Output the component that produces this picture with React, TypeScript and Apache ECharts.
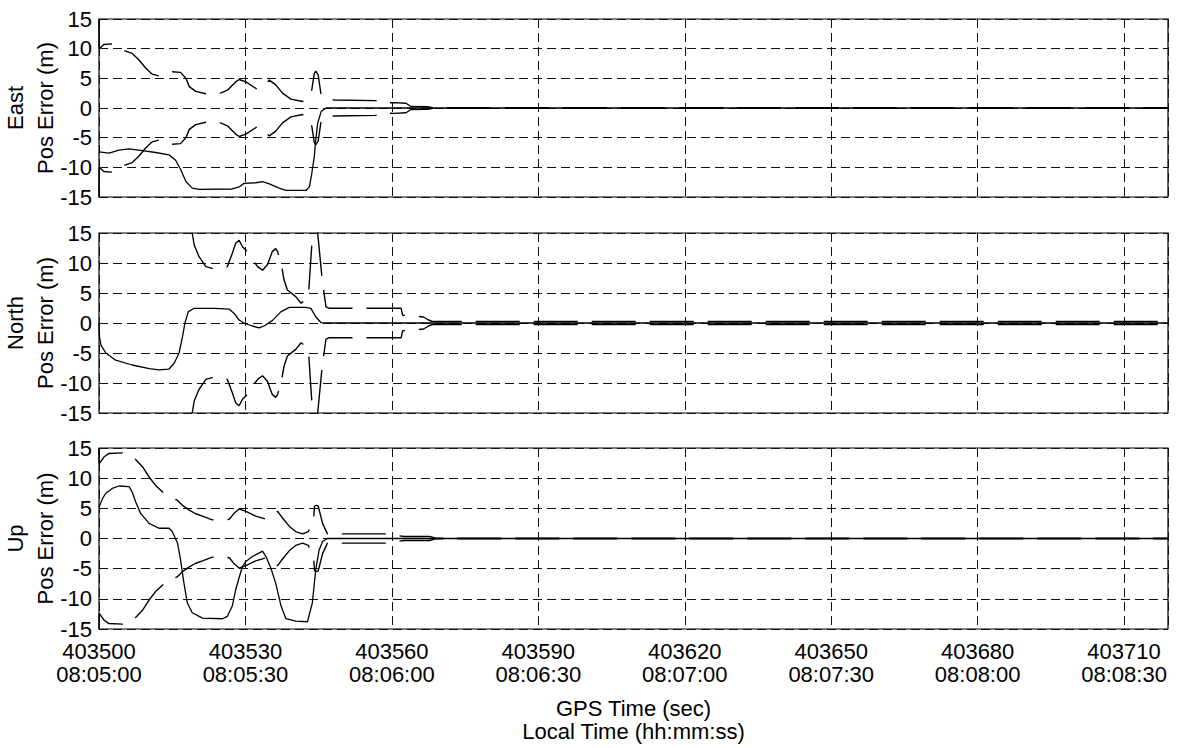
import React, { useEffect, useRef } from "react";
import * as echarts from "echarts";

// GPS start time of the record (08:05:00 local)
const T0 = 403500;
const T_END = 403719;

const gpsTicks = [403500, 403530, 403560, 403590, 403620, 403650, 403680, 403710];
const localTicks = ["08:05:00", "08:05:30", "08:06:00", "08:06:30", "08:07:00", "08:07:30", "08:08:00", "08:08:30"];

const panelNames = ["East", "North", "Up"];

// East position error (m), elapsed seconds from T0
const eastErrT = [0, 2.05, 4.1, 6.15, 8.9, 11.6, 14.35, 15.7, 16.75, 17.8, 19.1, 20.5, 27.3, 28.7, 29.7, 32.1, 33.5, 34.9, 36.9, 38.3, 42.4, 43.1, 43.6, 44.1, 44.4, 44.8, 45.5, 46.5, 219];
const eastErr = [-7.4, -7.6, -7.1, -6.9, -7.2, -7.5, -7.9, -8.8, -10.4, -12.4, -13.5, -13.7, -13.65, -13.3, -12.7, -12.6, -12.4, -12.8, -13.5, -13.9, -13.9, -13.3, -11.0, -8.2, -5.4, -2.6, -0.6, 0, 0];
// East 1-sigma bound (m)
const eastSigT = [0, 0.05, 1.0, 2.4, 4.8, 6.8, 8.2, 9.6, 10.9, 12.3, 13.6, 15.0, 16.7, 17.8, 18.5, 19.8, 21.9, 23.4, 24.9, 26.3, 28.0, 28.7, 30.1, 32.5, 33.7, 34.9, 36.2, 37.6, 39.3, 41.7, 42.8, 43.6, 44.1, 44.4, 44.9, 45.5, 46.5, 48.2, 56.7, 57.4, 60.5, 62.9, 63.9, 67.3, 68.5, 219];
const eastSig = [15, 10, 10.7, 10.8, 9.8, 9.2, 8.1, 6.7, 5.7, 5.4, 5.8, 6.1, 6.0, 5.0, 3.6, 2.8, 2.4, 2.4, 2.5, 3.0, 4.4, 4.8, 4.4, 3.1, 3.9, 4.7, 3.9, 2.5, 1.5, 1.1, 1.5, 3.1, 5.8, 6.2, 5.6, 2.2, 1.5, 1.35, 1.25, 0.85, 0.9, 0.8, 0.25, 0.2, 0.06, 0.06];

// North position error (m)
const northErrT = [0, 0.1, 0.4, 1.4, 3.4, 6.8, 10.3, 12.3, 14.3, 15.4, 16.4, 17.1, 17.6, 18.3, 19.5, 23.6, 26.7, 27.7, 28.7, 29.7, 31.4, 32.8, 33.8, 35.5, 37.3, 39.0, 42.4, 43.4, 44.4, 45.5, 46.5, 219];
const northErr = [0, -2.3, -3.7, -5.0, -6.2, -7.0, -7.6, -7.8, -7.7, -6.7, -5.0, -2.3, 0, 1.9, 2.45, 2.45, 2.3, 1.6, 0.5, 0, -0.5, -0.8, -0.5, 0.4, 1.9, 2.6, 2.6, 2.45, 1.05, 0.05, 0, 0];
// North 1-sigma bound (m)
const northSigT = [19.1, 19.5, 20.5, 21.9, 23.2, 24.8, 26.3, 27.3, 28.0, 28.7, 29.4, 30.4, 31.5, 32.5, 33.5, 34.5, 35.5, 36.2, 36.6, 37.5, 37.9, 38.6, 40.3, 41.4, 42.2, 42.9, 43.5, 44.2, 44.8, 45.7, 46.1, 46.5, 47.2, 53.0, 56.0, 61.9, 62.2, 64.3, 66.5, 67.5, 68.3, 219];
const northSig = [15, 13.0, 11.05, 9.4, 9.1, 9.0, 9.4, 11.6, 13.3, 13.8, 12.7, 11.9, 10.5, 9.4, 8.8, 9.7, 11.9, 12.4, 11.9, 9.1, 7.2, 5.5, 4.4, 3.3, 3.8, 4.5, 11.9, 20, 15, 7.4, 5.0, 2.7, 2.45, 2.45, 2.45, 2.45, 1.3, 1.2, 1.0, 0.5, 0.25, 0.25];

// Up position error (m)
const upErrT = [0, 0.7, 1.4, 2.7, 4.1, 6.15, 6.8, 7.5, 8.5, 10.25, 12.3, 14.35, 15.0, 16.1, 16.7, 17.4, 18.1, 19.1, 21.2, 25.3, 26.3, 27.3, 28.0, 28.7, 29.4, 30.1, 31.4, 33.5, 34.2, 35.2, 36.2, 37.3, 38.3, 40.3, 42.7, 43.7, 44.4, 45.1, 45.8, 46.8, 219];
const upErr = [5.2, 6.6, 7.5, 8.3, 8.7, 8.6, 7.7, 6.1, 4.2, 2.5, 1.7, 1.7, 1.15, -0.8, -3.5, -7.4, -10.7, -12.3, -13.2, -13.3, -12.9, -11.2, -8.5, -6.5, -4.6, -3.8, -3.0, -2.1, -3.0, -4.9, -7.4, -11.2, -13.3, -13.7, -13.8, -10.7, -5.2, -1.9, -0.5, 0, 0];
// Up 1-sigma bound (m)
const upSigT = [0, 0.05, 1.0, 2.05, 4.8, 6.2, 7.5, 8.9, 10.25, 11.6, 13.3, 14.7, 16.1, 17.1, 18.5, 19.8, 21.2, 23.2, 25.0, 26.7, 27.7, 28.7, 30.1, 32.1, 34.2, 35.4, 36.6, 37.6, 39.0, 40.3, 41.7, 42.9, 43.6, 44.0, 44.15, 44.4, 44.9, 45.8, 46.8, 48.5, 50.2, 59.5, 61.0, 62.5, 67.7, 69, 219];
const upSig = [15, 12.4, 13.5, 14.1, 14.2, 14.0, 13.1, 11.9, 10.2, 8.8, 7.5, 6.9, 6.3, 5.5, 4.7, 4.1, 3.7, 3.1, 3.0, 3.2, 4.2, 4.9, 4.5, 3.7, 3.2, 3.9, 4.5, 3.4, 2.0, 1.15, 0.77, 1.15, 2.4, 3.6, 5.3, 5.5, 5.4, 2.5, 0.77, 0.77, 0.77, 0.77, 0.5, 0.33, 0.33, 0.06, 0.06];

const FONT = '"Liberation Sans", Arial, Helvetica, sans-serif';
const FS = 22;

const panels = [
  { top: 19, height: 178, errT: eastErrT, err: eastErr, sigT: eastSigT, sig: eastSig },
  { top: 233, height: 180, errT: northErrT, err: northErr, sigT: northSigT, sig: northSig },
  { top: 448, height: 181, errT: upErrT, err: upErr, sigT: upSigT, sig: upSig },
];

const GRID_LEFT = 99;
const GRID_RIGHT = 13;

function toPoints(ts: number[], vs: number[], sign = 1) {
  return ts.map((t, i) => [T0 + t, sign * vs[i]]);
}

function tickLabel(v: number) {
  const i = gpsTicks.indexOf(Math.round(v));
  if (i < 0 || Math.abs(v - gpsTicks[i]) > 1e-6) return "";
  return `${gpsTicks[i]}\n${localTicks[i]}`;
}

export default function App() {
  const ref = useRef<HTMLDivElement>(null);

  useEffect(() => {
    if (!ref.current) return;
    const chart = echarts.init(ref.current, null, { renderer: "svg" });

    const grids = panels.map((p) => ({
      left: GRID_LEFT,
      right: GRID_RIGHT,
      top: p.top,
      height: p.height,
      show: true,
      borderColor: "#000",
      borderWidth: 1.2,
      backgroundColor: "transparent",
    }));

    const xAxes = panels.map((_, i) => ({
      type: "value",
      gridIndex: i,
      min: T0,
      max: T_END,
      interval: 30,
      axisLine: { show: false },
      axisTick: { show: false },
      axisLabel: {
        show: i === 2,
        formatter: tickLabel,
        color: "#000",
        fontFamily: FONT,
        fontSize: FS,
        lineHeight: 23,
        margin: 11,
      },
      splitLine: { show: true, lineStyle: { color: "#111", width: 1, type: [9, 5] } },
    }));

    const yAxes = panels.map((_, i) => ({
      type: "value",
      gridIndex: i,
      min: -15,
      max: 15,
      interval: 5,
      axisLine: { show: false },
      axisTick: { show: false },
      axisLabel: { color: "#000", fontFamily: FONT, fontSize: FS, lineHeight: 20, margin: 7 },
      splitLine: { show: true, lineStyle: { color: "#111", width: 1, type: [9, 5] } },
    }));

    const series: any[] = [];
    panels.forEach((p, i) => {
      const common = {
        type: "line",
        xAxisIndex: i,
        yAxisIndex: i,
        showSymbol: false,
        symbol: "none",
        clip: true,
        silent: true,
      };
      series.push({
        ...common,
        data: toPoints(p.errT, p.err),
        lineStyle: { color: "#000", width: 1.3 },
        z: 3,
      });
      [1, -1].forEach((s) => {
        series.push({
          ...common,
          data: toPoints(p.sigT, p.sig, s),
          lineStyle: { color: "#000", width: 1.4, type: [44, 14] },
          z: 3,
        });
      });
    });

    const titleStyle = (text: string) => ({
      text,
      font: `${FS}px ${FONT}`,
      fill: "#000",
      textAlign: "center",
      textVerticalAlign: "middle",
    });

    const graphic: any[] = [];
    panels.forEach((p, i) => {
      const cy = p.top + p.height / 2;
      graphic.push({ type: "text", x: 15, y: cy, rotation: Math.PI / 2, style: titleStyle(panelNames[i]) });
      graphic.push({ type: "text", x: 45, y: cy, rotation: Math.PI / 2, style: titleStyle("Pos Error (m)") });
    });
    const cx = GRID_LEFT + (1181 - GRID_LEFT - GRID_RIGHT) / 2;
    graphic.push({ type: "text", x: cx, y: 708, style: titleStyle("GPS Time (sec)") });
    graphic.push({ type: "text", x: cx, y: 731, style: titleStyle("Local Time (hh:mm:ss)") });

    chart.setOption({
      animation: false,
      backgroundColor: "#fff",
      grid: grids,
      xAxis: xAxes,
      yAxis: yAxes,
      series,
      graphic,
    });

    return () => chart.dispose();
  }, []);

  return (
    <div
      ref={ref}
      style={{ position: "fixed", left: 0, top: 0, width: 1181, height: 748, background: "#fff" }}
    />
  );
}
